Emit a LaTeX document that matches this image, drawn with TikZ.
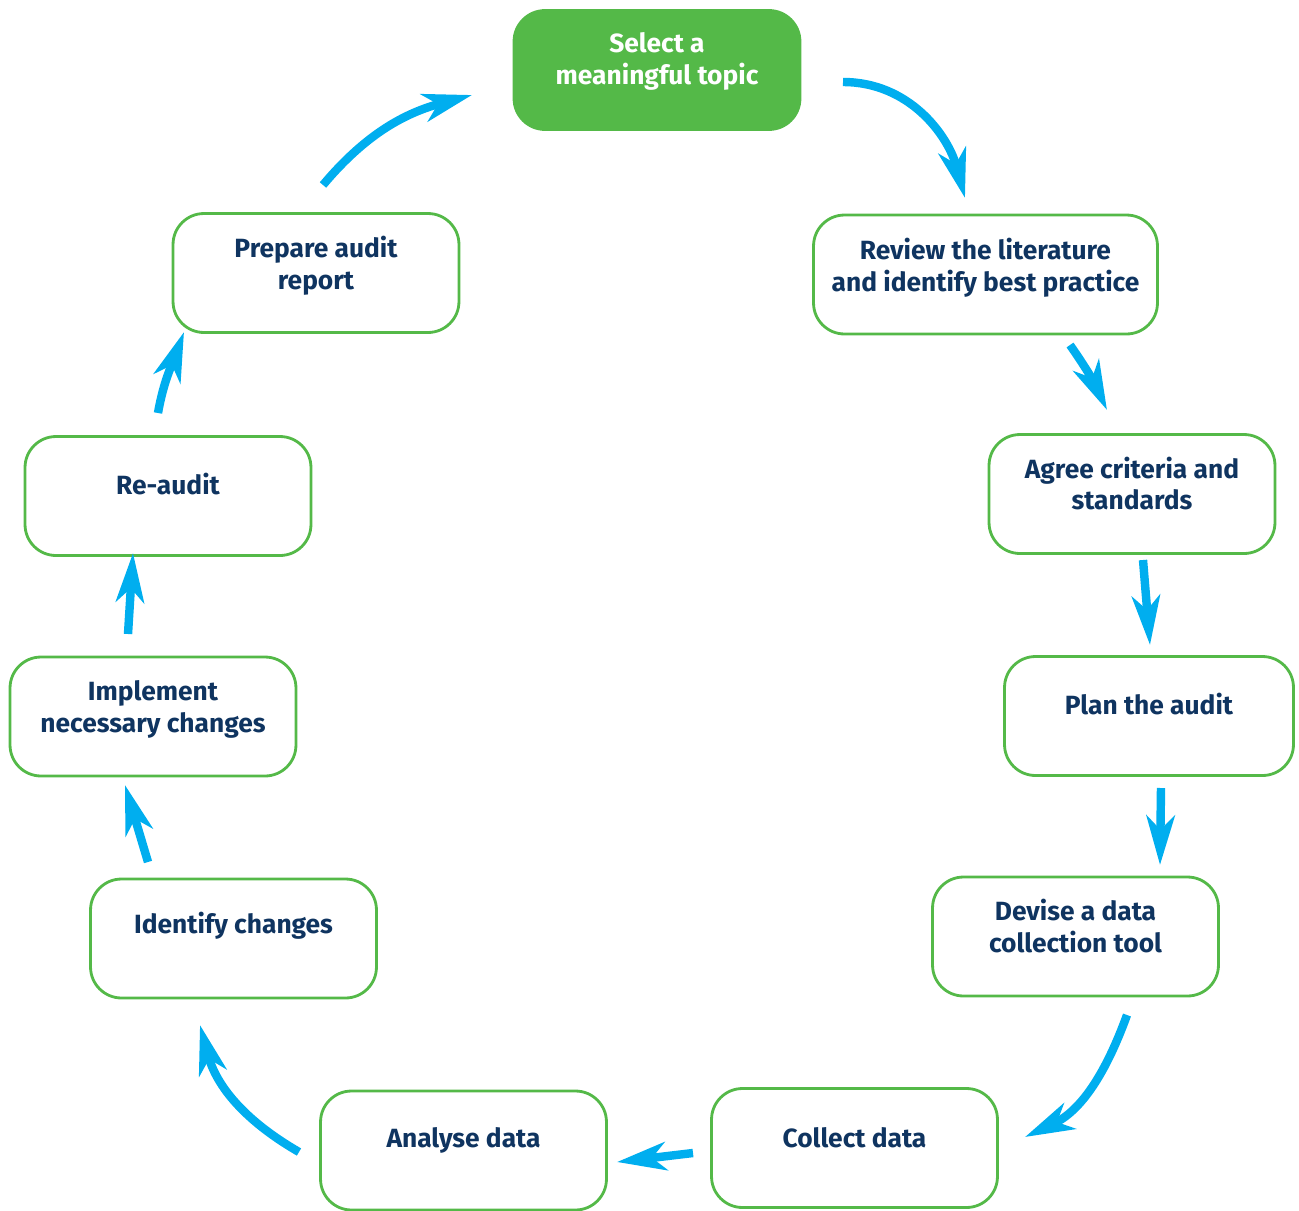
\documentclass[tikz,border=0pt]{standalone}
\usepackage{fontspec}
\setmainfont{Fira Sans}
\usetikzlibrary{arrows.meta,positioning}
\definecolor{verde}{HTML}{54B948}
\definecolor{cian}{HTML}{00AEEF}
\definecolor{marino}{HTML}{0F3460}

\begin{document}
\begin{tikzpicture}[x=0.02cm,y=0.02cm,
    paso/.style={draw=verde,line width=1.6pt,rounded corners=0.62cm,minimum width=5.72cm,minimum height=2.38cm},
    texto/.style={font=\bfseries\fontsize{15}{18}\selectfont,text=marino,align=center,yshift=6pt},
    flecha/.style={draw=cian,line width=4.8pt,-{Stealth[length=28pt,width=16pt,inset=8pt]}}]
  \useasboundingbox (0,0) rectangle (1299,-1211);
  % cajas del ciclo
  \node[paso,fill=verde,label={[texto,text=white,yshift=-1pt]center:Select a\\meaningful topic}] (tema) at (657,-70) {};
  \node[paso,minimum width=6.88cm,label={[texto,yshift=-2pt]center:Review the literature\\and identify best practice}] (revision) at (985.5,-274.5) {};
  \node[paso,label={[texto]center:Agree criteria and\\standards}] (criterios) at (1132,-494) {};
  \node[paso,minimum width=5.78cm,label={[texto,yshift=1pt]center:Plan the audit}] (plan) at (1149,-716) {};
  \node[paso,label={[texto]center:Devise a data\\collection tool}] (herramienta) at (1075.5,-936.5) {};
  \node[paso,label={[texto]center:Collect data}] (recogida) at (854.5,-1148) {};
  \node[paso,label={[texto]center:Analyse data}] (analisis) at (463.5,-1150.5) {};
  \node[paso,label={[texto,yshift=1pt]center:Identify changes}] (cambios) at (233.5,-938.5) {};
  \node[paso,label={[texto,yshift=-2pt]center:Implement\\necessary changes}] (implantar) at (153,-716.5) {};
  \node[paso,label={[texto,yshift=1pt]center:Re-audit}] (reauditoria) at (168,-496) {};
  \node[paso,label={[texto,yshift=-2pt]center:Prepare audit\\report}] (informe) at (316,-273) {};
  % flechas
  \draw[flecha] ([shift={(186,-12)}]tema.center) to[out=0,in=105] ([shift={(-20.5,76.5)}]revision.center);
  \draw[flecha] ([shift={(84.5,-70.5)}]revision.center) to[out=-55,in=115] ([shift={(-25,84)}]criterios.center);
  \draw[flecha] ([shift={(11,-66)}]criterios.center) -- ([shift={(1,71)}]plan.center);
  \draw[flecha] ([shift={(12,-72)}]plan.center) -- ([shift={(84.5,71.5)}]herramienta.center);
  \draw[flecha] ([shift={(51.5,-78.5)}]herramienta.center) to[out=-110,in=25] ([shift={(170.5,11)}]recogida.center);
  \draw[flecha] ([shift={(-161.5,-5)}]recogida.center) -- ([shift={(153.5,-11.5)}]analisis.center);
  \draw[flecha] ([shift={(-164.5,-1.5)}]analisis.center) to[out=150,in=-75] ([shift={(-33.5,-86.5)}]cambios.center);
  \draw[flecha] ([shift={(-85.5,76.5)}]cambios.center) -- ([shift={(-28,-68.5)}]implantar.center);
  \draw[flecha] ([shift={(-25,82.5)}]implantar.center) -- ([shift={(-35,-57)}]reauditoria.center);
  \draw[flecha] ([shift={(-10,83)}]reauditoria.center) to[out=80,in=-110] ([shift={(-132,-59)}]informe.center);
  \draw[flecha] ([shift={(7,88)}]informe.center) to[out=50,in=195] ([shift={(-185,-25)}]tema.center);
\end{tikzpicture}
\end{document}
